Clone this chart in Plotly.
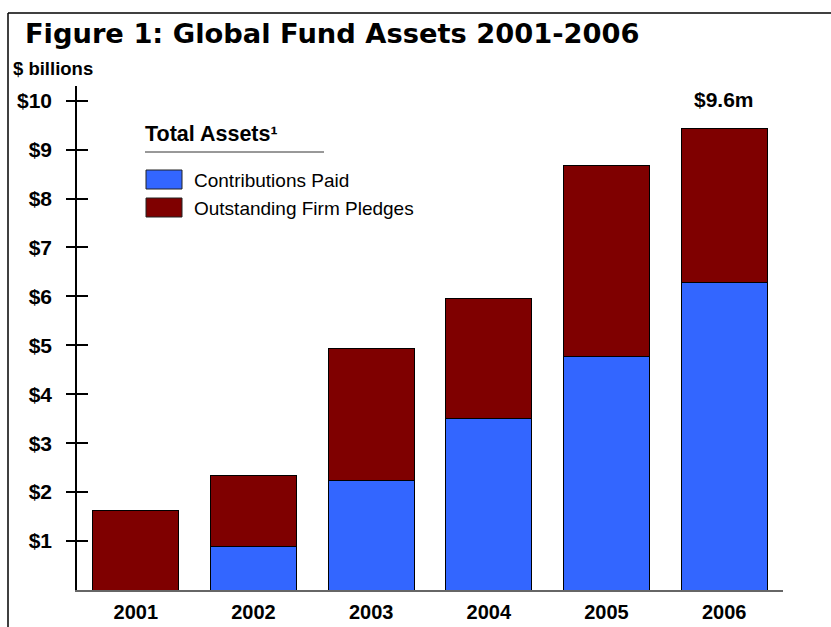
import plotly.graph_objects as go

# values ($ billions)
years = [2001, 2002, 2003, 2004, 2005, 2006]
contributions_paid = [0.0, 0.88, 2.24, 3.50, 4.78, 6.28]
firm_pledges = [1.62, 1.47, 2.69, 2.46, 3.89, 3.16]
y_ticks = [1, 2, 3, 4, 5, 6, 7, 8, 9, 10]
y_tick_labels = ['$1', '$2', '$3', '$4', '$5', '$6', '$7', '$8', '$9', '$10']
top_label = '$9.6m'

BLUE = '#3366FF'
MAROON = '#7F0000'
FONT = 'Arial, Liberation Sans, sans-serif'
Y_RANGE = [0, 10.3]
X_RANGE = [years[0] - 0.5, years[-1] + 0.5]
DEFAULT_CONFIG = {'displayModeBar': False}
JAVASCRIPT = "document.body.style.margin = '0';"

totals = [c + p for c, p in zip(contributions_paid, firm_pledges)]

fig = go.Figure()

fig.add_trace(go.Bar(x=years, y=contributions_paid, name='Contributions Paid', width=0.73,
                     marker=dict(color=BLUE, line=dict(color='black', width=1))))
fig.add_trace(go.Bar(x=years, y=firm_pledges, name='Outstanding Firm Pledges', width=0.73,
                     marker=dict(color=MAROON, line=dict(color='black', width=1))))
# transparent trace so the overlay axis (the inner half of the cross ticks) gets drawn
fig.add_trace(go.Scatter(x=years, y=totals, yaxis='y2', mode='markers', marker=dict(opacity=0),
                         showlegend=False, hoverinfo='skip'))

fig.update_layout(
    width=831, height=627,
    barmode='stack',
    showlegend=False,
    plot_bgcolor='white', paper_bgcolor='white',
    margin=dict(l=77, r=48, t=86, b=37),
    font=dict(family=FONT, color='black'),
    title=dict(text='<b>Figure 1: Global Fund Assets 2001-2006</b>',
               font=dict(family='DejaVu Sans, Arial Black, sans-serif', size=27.3, color='black'),
               xref='container', x=0.03, xanchor='left', yref='container', y=0.947, yanchor='middle'),
    xaxis=dict(range=X_RANGE, tickvals=years, ticktext=[str(y) for y in years],
               showline=True, linecolor='#666666', linewidth=2, automargin=False,
               ticks='', showgrid=False, zeroline=False, ticklabelstandoff=3,
               tickfont=dict(size=20, family=FONT, weight='bold')),
    yaxis=dict(range=Y_RANGE, tickvals=y_ticks, ticktext=y_tick_labels, showgrid=False, zeroline=False,
               showline=True, linecolor='black', linewidth=1.5, automargin=False,
               ticks='outside', ticklen=9, tickwidth=2, tickcolor='black',
               ticklabelstandoff=10, tickfont=dict(size=21, family=FONT, weight='bold')),
    yaxis2=dict(range=Y_RANGE, overlaying='y', side='left', tickvals=y_ticks, showticklabels=False,
                ticks='inside', ticklen=11, tickwidth=2, tickcolor='black', automargin=False,
                showgrid=False, zeroline=False, showline=False),
)

# value label above the last bar
fig.add_annotation(x=years[-1], y=totals[-1], text='<b>' + top_label + '</b>', showarrow=False,
                   yanchor='bottom', yshift=15, font=dict(size=21, family=FONT))

# unit label
fig.add_annotation(x=0, y=1, xref='paper', yref='paper', xshift=-66, yshift=18, xanchor='left',
                   yanchor='middle', text='<b>$ billions</b>', showarrow=False, font=dict(size=18.5, family=FONT))

# legend block drawn as annotations and shapes anchored to the plot's top-left corner
fig.add_annotation(x=0, y=1, xref='paper', yref='paper', xshift=66, yshift=-48, xanchor='left',
                   yanchor='middle', text='<b>Total Assets¹</b>', showarrow=False, font=dict(size=21.5, family=FONT))
fig.add_annotation(x=0, y=1, xref='paper', yref='paper', xshift=115, yshift=-94, xanchor='left',
                   yanchor='middle', text='Contributions Paid', showarrow=False, font=dict(size=19, family=FONT))
fig.add_annotation(x=0, y=1, xref='paper', yref='paper', xshift=115, yshift=-122, xanchor='left',
                   yanchor='middle', text='Outstanding Firm Pledges', showarrow=False,
                   font=dict(size=19, family=FONT))

pixel_shape = dict(xref='paper', yref='paper', xsizemode='pixel', ysizemode='pixel', xanchor=0, yanchor=1)
fig.add_shape(type='line', x0=68, x1=247, y0=-66, y1=-66, line=dict(color='#333333', width=1), **pixel_shape)
fig.add_shape(type='rect', x0=69, x1=105, y0=-84, y1=-103, fillcolor=BLUE,
              line=dict(color='#222222', width=1), **pixel_shape)
fig.add_shape(type='rect', x0=69, x1=105, y0=-112, y1=-131, fillcolor=MAROON,
              line=dict(color='#222222', width=1), **pixel_shape)

# outer frame (left and top edges)
fig.add_shape(type='line', x0=-69, x1=-69, y0=73, y1=-600, line=dict(color='black', width=1.5), **pixel_shape)
fig.add_shape(type='line', x0=-69, x1=800, y0=73, y1=73, line=dict(color='black', width=1.5), **pixel_shape)

fig.write_html('out.html', config=DEFAULT_CONFIG, post_script=[JAVASCRIPT])
